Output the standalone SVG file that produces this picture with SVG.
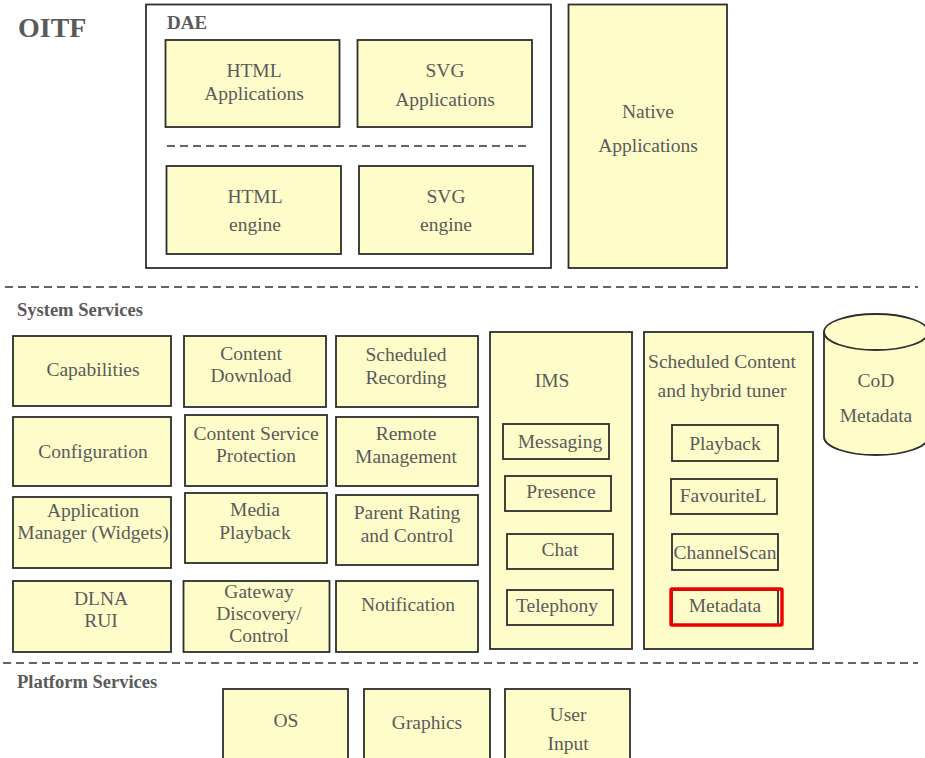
<svg xmlns="http://www.w3.org/2000/svg" width="925" height="758" viewBox="0 0 925 758">
<style>
  .box { fill: #fefdca; stroke: #2e2e2e; stroke-width: 1.8; }
  .frame { fill: #ffffff; stroke: #2e2e2e; stroke-width: 1.8; }
  .t { font-family: 'Liberation Serif', 'DejaVu Serif', serif; font-size: 19.5px; fill: #5a5a5a; text-anchor: middle; }
  .h { font-family: 'Liberation Serif', 'DejaVu Serif', serif; font-weight: bold; fill: #5a5a5a; }
  .dash { stroke: #333; stroke-width: 1.6; stroke-dasharray: 8 5; fill: none; }
</style>
<rect width="925" height="758" fill="#ffffff"/>

<text class="h" x="18" y="37" font-size="28">OITF</text>

<g id="dae">
  <rect class="frame" x="146" y="4.5" width="405" height="263.5"/>
  <text class="h" x="167" y="29" font-size="19">DAE</text>
  <line class="dash" x1="167" y1="146" x2="527" y2="146"/>
</g>
<g id="html-apps">
  <rect class="box" x="165.5" y="40" width="174" height="87"/>
  <text class="t" x="254" y="77">HTML</text>
  <text class="t" x="254" y="100">Applications</text>
</g>
<g id="svg-apps">
  <rect class="box" x="357.5" y="40" width="174.5" height="87"/>
  <text class="t" x="445" y="77">SVG</text>
  <text class="t" x="445" y="106">Applications</text>
</g>
<g id="html-engine">
  <rect class="box" x="166.5" y="166" width="174.5" height="88"/>
  <text class="t" x="255" y="203">HTML</text>
  <text class="t" x="255" y="231">engine</text>
</g>
<g id="svg-engine">
  <rect class="box" x="359" y="166" width="174" height="88"/>
  <text class="t" x="446" y="203">SVG</text>
  <text class="t" x="446" y="231">engine</text>
</g>
<g id="native-apps">
  <rect class="box" x="568.5" y="4.5" width="158.5" height="263.5"/>
  <text class="t" x="648" y="118">Native</text>
  <text class="t" x="648" y="152">Applications</text>
</g>

<line class="dash" x1="5" y1="287" x2="918" y2="287"/>
<text class="h" x="17" y="316" font-size="18.5">System Services</text>

<g id="capabilities">
  <rect class="box" x="13" y="336" width="158" height="70"/>
  <text class="t" x="93" y="376">Capabilities</text>
</g>
<g id="content-download">
  <rect class="box" x="184" y="336" width="142" height="71"/>
  <text class="t" x="251" y="360">Content</text>
  <text class="t" x="251" y="382">Download</text>
</g>
<g id="scheduled-recording">
  <rect class="box" x="336" y="336" width="142" height="71"/>
  <text class="t" x="406" y="361">Scheduled</text>
  <text class="t" x="406" y="384">Recording</text>
</g>
<g id="configuration">
  <rect class="box" x="13" y="417" width="158" height="69"/>
  <text class="t" x="93" y="458">Configuration</text>
</g>
<g id="content-service-protection">
  <rect class="box" x="185" y="415" width="142" height="71"/>
  <text class="t" x="256" y="440">Content Service</text>
  <text class="t" x="256" y="462">Protection</text>
</g>
<g id="remote-management">
  <rect class="box" x="336" y="417" width="142" height="69"/>
  <text class="t" x="406" y="440">Remote</text>
  <text class="t" x="406" y="463">Management</text>
</g>
<g id="application-manager">
  <rect class="box" x="13" y="497" width="158" height="71"/>
  <text class="t" x="93" y="517">Application</text>
  <text class="t" x="93" y="539">Manager (Widgets)</text>
</g>
<g id="media-playback">
  <rect class="box" x="185" y="493" width="142" height="70"/>
  <text class="t" x="255" y="516">Media</text>
  <text class="t" x="255" y="539">Playback</text>
</g>
<g id="parent-rating">
  <rect class="box" x="336" y="495" width="142" height="70"/>
  <text class="t" x="407" y="519">Parent Rating</text>
  <text class="t" x="407" y="542">and Control</text>
</g>
<g id="dlna-rui">
  <rect class="box" x="13" y="581" width="158" height="71"/>
  <text class="t" x="101" y="605">DLNA</text>
  <text class="t" x="101" y="627">RUI</text>
</g>
<g id="gateway">
  <rect class="box" x="183.5" y="581" width="146" height="71"/>
  <text class="t" x="259" y="598">Gateway</text>
  <text class="t" x="259" y="620">Discovery/</text>
  <text class="t" x="259" y="642">Control</text>
</g>
<g id="notification">
  <rect class="box" x="336" y="581" width="142" height="71"/>
  <text class="t" x="408" y="611">Notification</text>
</g>

<g id="ims">
  <rect class="box" x="490" y="332" width="142" height="317"/>
  <text class="t" x="552" y="387">IMS</text>
</g>
<g id="messaging">
  <rect class="box" x="503" y="424" width="106" height="35"/>
  <text class="t" x="560" y="448">Messaging</text>
</g>
<g id="presence">
  <rect class="box" x="505" y="476" width="106" height="35"/>
  <text class="t" x="561" y="498">Presence</text>
</g>
<g id="chat">
  <rect class="box" x="507" y="534" width="106" height="35"/>
  <text class="t" x="560" y="556">Chat</text>
</g>
<g id="telephony">
  <rect class="box" x="507" y="590" width="106" height="35"/>
  <text class="t" x="557" y="612">Telephony</text>
</g>

<g id="scheduled-content">
  <rect class="box" x="644" y="332" width="169" height="317"/>
  <text class="t" x="722" y="368">Scheduled Content</text>
  <text class="t" x="722" y="397">and hybrid tuner</text>
</g>
<g id="playback">
  <rect class="box" x="672" y="425" width="106" height="36"/>
  <text class="t" x="725" y="450">Playback</text>
</g>
<g id="favouritel">
  <rect class="box" x="671" y="479" width="106" height="35"/>
  <text class="t" x="723" y="502">FavouriteL</text>
</g>
<g id="channelscan">
  <rect class="box" x="672" y="534" width="106" height="36"/>
  <text class="t" x="725" y="559">ChannelScan</text>
</g>
<g id="metadata">
  <rect class="box" x="672" y="590" width="106" height="35"/>
  <rect x="671" y="589" width="111" height="36" fill="none" stroke="#ee0000" stroke-width="3.4" rx="1"/>
  <text class="t" x="725" y="612">Metadata</text>
</g>

<g id="cod-metadata">
  <path class="box" d="M824,332 L824,437 A52,18 0 0 0 928,437 L928,332"/>
  <ellipse class="box" cx="876" cy="332" rx="52" ry="18"/>
  <text class="t" x="876" y="387">CoD</text>
  <text class="t" x="876" y="422">Metadata</text>
</g>

<line class="dash" x1="3" y1="663" x2="918" y2="663"/>
<text class="h" x="17" y="688" font-size="18.5">Platform Services</text>

<g id="os">
  <rect class="box" x="223" y="689" width="125" height="80"/>
  <text class="t" x="286" y="727">OS</text>
</g>
<g id="graphics">
  <rect class="box" x="364" y="689" width="126" height="80"/>
  <text class="t" x="427" y="729">Graphics</text>
</g>
<g id="user-input">
  <rect class="box" x="505" y="689" width="125" height="80"/>
  <text class="t" x="568" y="721">User</text>
  <text class="t" x="568" y="750">Input</text>
</g>

<g id="connectors"></g>
</svg>
